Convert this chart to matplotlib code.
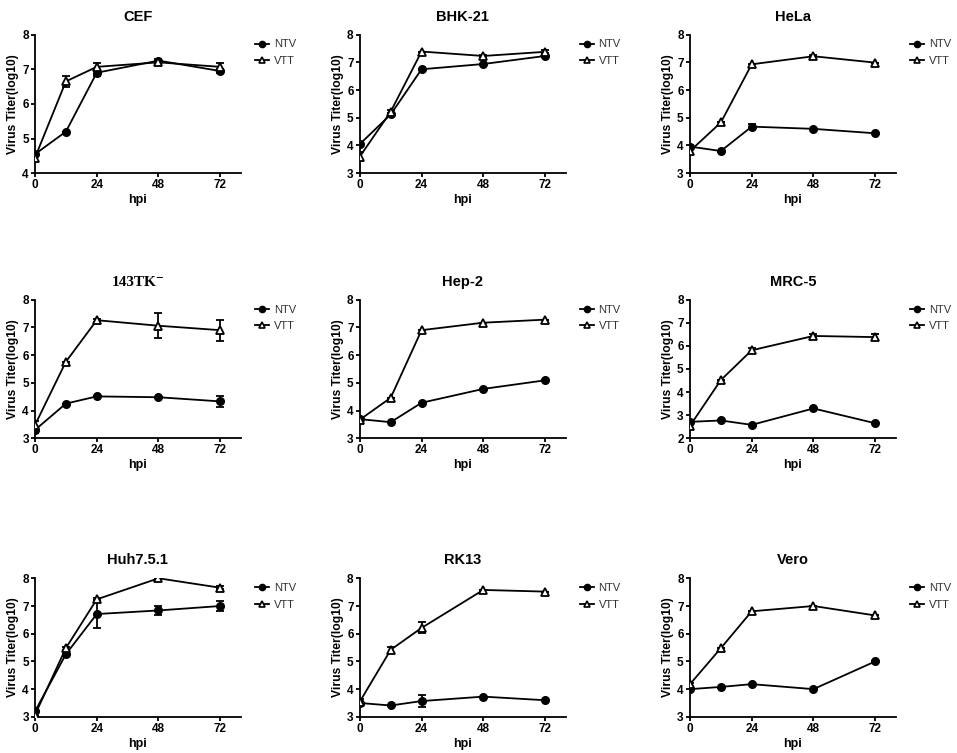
import matplotlib
matplotlib.use("Agg")
import matplotlib.pyplot as plt
from matplotlib.lines import Line2D

# sampling times (hours post infection)
hpi = [0, 12, 24, 48, 72]

# cell lines, in panel order
cells = ["CEF", "BHK-21", "HeLa", "143TK⁻", "Hep-2", "MRC-5", "Huh7.5.1", "RK13", "Vero"]
y_min = [4, 3, 3, 3, 3, 2, 3, 3, 3]

# NTV titers (log10) and error
ntv = [
    [4.55, 5.2, 6.9, 7.25, 6.95],
    [4.05, 5.12, 6.75, 6.94, 7.23],
    [3.96, 3.8, 4.68, 4.6, 4.44],
    [3.3, 4.25, 4.51, 4.48, 4.33],
    [3.69, 3.58, 4.28, 4.78, 5.09],
    [2.71, 2.77, 2.58, 3.29, 2.65],
    [3.2, 5.26, 6.71, 6.84, 7.0],
    [3.5, 3.41, 3.57, 3.73, 3.6],
    [4.0, 4.08, 4.18, 4.0, 5.0],
]
ntv_err = [
    [0.05, 0.0, 0.08, 0.05, 0.05],
    [0.05, 0.05, 0.0, 0.0, 0.05],
    [0.05, 0.0, 0.1, 0.0, 0.0],
    [0.1, 0.0, 0.0, 0.0, 0.2],
    [0.0, 0.0, 0.0, 0.0, 0.0],
    [0.0, 0.0, 0.0, 0.0, 0.0],
    [0.05, 0.0, 0.5, 0.15, 0.18],
    [0.05, 0.0, 0.22, 0.0, 0.0],
    [0.0, 0.0, 0.0, 0.0, 0.0],
]

# VTT titers (log10) and error
vtt = [
    [4.45, 6.65, 7.07, 7.2, 7.07],
    [3.6, 5.22, 7.39, 7.23, 7.38],
    [3.8, 4.83, 6.93, 7.22, 6.99],
    [3.48, 5.76, 7.26, 7.06, 6.9],
    [3.67, 4.46, 6.9, 7.17, 7.28],
    [2.54, 4.52, 5.81, 6.43, 6.38],
    [3.08, 5.48, 7.24, 8.0, 7.66],
    [3.55, 5.42, 6.21, 7.58, 7.52],
    [4.18, 5.48, 6.81, 7.0, 6.66],
]
vtt_err = [
    [0.1, 0.15, 0.12, 0.05, 0.12],
    [0.15, 0.05, 0.0, 0.05, 0.05],
    [0.1, 0.0, 0.0, 0.05, 0.0],
    [0.15, 0.0, 0.05, 0.45, 0.38],
    [0.0, 0.0, 0.0, 0.0, 0.0],
    [0.1, 0.0, 0.1, 0.07, 0.12],
    [0.05, 0.05, 0.05, 0.0, 0.05],
    [0.1, 0.1, 0.2, 0.0, 0.0],
    [0.05, 0.0, 0.0, 0.0, 0.0],
]

plt.rcParams["font.family"] = ["Liberation Sans", "DejaVu Sans"]

fig = plt.figure(figsize=(9.57, 7.53), dpi=100)

lefts = [0.0366, 0.376, 0.721]
bottoms = [0.770, 0.418, 0.048]
w, h = 0.215, 0.184

ntv_style = dict(color="black", lw=1.3, marker="o", ms=5.5, mfc="black", mec="black")
vtt_style = dict(color="black", lw=1.3, marker="^", ms=6, mfc="white", mec="black", mew=1.3)
handles = [
    Line2D([], [], color="black", lw=1.3, marker="o", ms=4.5, mfc="black", mec="black"),
    Line2D([], [], color="black", lw=1.3, marker="^", ms=5, mfc="white", mec="black", mew=1.2),
]

for i, name in enumerate(cells):
    r, c = divmod(i, 3)
    ax = fig.add_axes([lefts[c], bottoms[r], w, h])

    ax.errorbar(hpi, ntv[i], yerr=ntv_err[i], capsize=3, elinewidth=1.3,
                capthick=1.3, zorder=3, **ntv_style)
    ax.errorbar(hpi, vtt[i], yerr=vtt_err[i], capsize=3, elinewidth=1.3,
                capthick=1.3, zorder=4, **vtt_style)

    ax.set_xlim(0, 80)
    ax.set_ylim(y_min[i], 8)
    ax.set_xticks([0, 24, 48, 72])
    ax.set_yticks(range(y_min[i], 9))
    for s in ["top", "right"]:
        ax.spines[s].set_visible(False)
    for s in ["left", "bottom"]:
        ax.spines[s].set_linewidth(1.3)
    ax.tick_params(width=1.3, length=3, labelsize=8.5, pad=1.5)
    for lab in ax.get_xticklabels() + ax.get_yticklabels():
        lab.set_fontweight("bold")

    ax.set_xlabel("hpi", fontsize=9, fontweight="bold", labelpad=2)
    ax.set_ylabel("Virus Titer(log10)", fontsize=8.7, fontweight="bold", labelpad=2)
    if name.startswith("143"):
        ax.set_title(name, fontsize=11, fontweight="bold", pad=10,
                     family=["Liberation Serif", "DejaVu Serif"])
    else:
        ax.set_title(name, fontsize=10.5, fontweight="bold", pad=10)

    ax.legend(handles, ["NTV", "VTT"], loc="upper left", bbox_to_anchor=(1.068, 0.965),
              frameon=False, fontsize=8, handlelength=1.3, handletextpad=0.4,
              labelspacing=0.6, borderpad=0, borderaxespad=0, labelcolor="#333333")

fig.savefig("out.png", dpi=100)
